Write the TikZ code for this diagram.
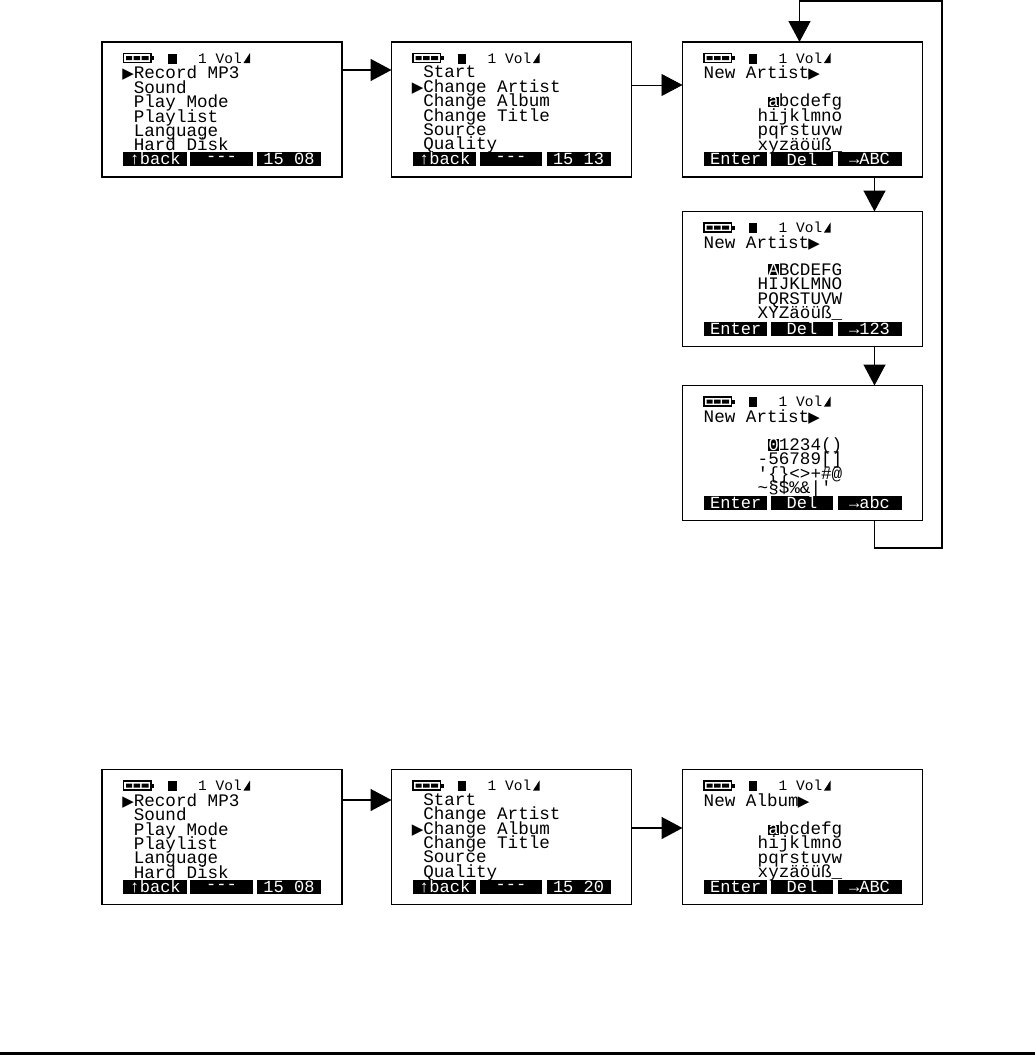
\documentclass[tikz,border=0pt]{standalone}
\usepackage{fontspec}
\setmonofont{Liberation Mono}
\newfontfamily\symfont{DejaVu Sans}
\usepackage{tikz}
\usetikzlibrary{arrows.meta,positioning}
\newcommand{\marker}{\makebox[10.6pt][r]{\symfont\fontsize{15}{14.3}\selectfont ▶}}
\newcommand{\cursor}[1]{{\setlength{\fboxsep}{0pt}\colorbox{black}{\textcolor{white}{#1}}}}
\lineskiplimit=-30pt
% status row of a screen
\newcommand{\lcdhead}[1]{
	\begin{scope}[shift={(#1.north west)}]
		\draw[line width=1.5pt] (21.5,-11.5) rectangle (49,-20.5);
		\fill (24,-14) rectangle (30,-18) (31.5,-14) rectangle (38,-18) (39.5,-14) rectangle (46.5,-18);
		\fill (49,-14) rectangle (52,-18);
		\fill (66,-11.5) rectangle (74.5,-21.5);
		\node[status,anchor=base west] (#1vol) at (96,-21) {1 Vol};
		\fill (148,-11) -- (148,-21) -- (141.5,-21) -- cycle;
	\end{scope}}
% black soft key bar
\newcommand{\lcdbars}[4]{
	\begin{scope}[shift={(#1.north west)}]
		\node[softkey,minimum width=63.5pt] (#1left) at (53.2,-117) {#2};
		\node[softkey,minimum width=62.5pt] (#1mid) at (119.5,-117) {#3};
		\node[softkey,minimum width=64pt] (#1right) at (187,-117) {#4};
	\end{scope}}
\newcommand{\lcdmenu}[5]{
	\node[screen,#2] (#1) {};
	\lcdhead{#1}
	\node[lines] (#1menu) at ([xshift=21pt,yshift=-24pt]#1.north west) {#3};
	\lcdbars{#1}{↑back}{---}{15 #4}}
\newcommand{\lcdkeys}[5]{
	\node[screen,#2] (#1) {};
	\lcdhead{#1}
	\node[lines] (#1title) at ([xshift=21pt,yshift=-24pt]#1.north west) {New #3\marker};
	\node[lines] (#1chars) at ([xshift=75pt,yshift=-52pt]#1.north west) {#4};
	\lcdbars{#1}{Enter}{Del}{→#5}}
\begin{document}
\begin{tikzpicture}[
		x=1pt,y=1pt,
		node distance=34.5pt and 49.5pt,
		screen/.style={draw,line width=1.6pt,minimum width=240pt,minimum height=135pt,inner sep=0pt,outer sep=0pt},
		status/.style={font=\ttfamily\fontsize{14.5}{14.3}\selectfont,inner sep=0pt},
		lines/.style={anchor=north west,align=left,inner sep=0pt,font=\ttfamily\fontsize{17.6}{14.35}\selectfont},
		softkey/.style={fill=black,text=white,minimum height=14pt,inner sep=0pt,font=\ttfamily\fontsize{17}{14}\selectfont},
		arr/.style={-{Triangle[length=21pt,width=22pt]},line width=1.5pt}
	]
	\useasboundingbox (0,0) rectangle (1035,-1055);
	\node[screen] (recmenu) at (222,-109.5) {};
	\lcdhead{recmenu}
	\node[lines] (recmenutext) at ([xshift=21pt,yshift=-24pt]recmenu.north west) {\marker Record MP3\\~Sound\\~Play Mode\\~Playlist\\~Language\\~Hard Disk};
	\lcdbars{recmenu}{↑back}{---}{15 08}
	\lcdmenu{artmenu}{right=of recmenu}{~Start\\\marker Change Artist\\~Change Album\\~Change Title\\~Source\\~Quality}{13}{}
	\lcdkeys{lower}{right=51pt of artmenu}{Artist}{~\cursor{a}bcdefg\\hijklmno\\pqrstuvw\\xyzäöüß\_}{ABC}
	\lcdkeys{upper}{below=of lower}{Artist}{~\cursor{A}BCDEFG\\HIJKLMNO\\PQRSTUVW\\XYZäöüß\_}{123}
	\lcdkeys{digits}{below=39pt of upper}{Artist}{~\cursor{0}1234()\\-56789[]\\'\{\}<>+\#@\\\textasciitilde§\$\%\&|'}{abc}
	\node[screen] (recmenub) at (222,-837) {};
	\lcdhead{recmenub}
	\node[lines] (recmenubtext) at ([xshift=21pt,yshift=-24pt]recmenub.north west) {\marker Record MP3\\~Sound\\~Play Mode\\~Playlist\\~Language\\~Hard Disk};
	\lcdbars{recmenub}{↑back}{---}{15 08}
	\lcdmenu{albmenu}{right=of recmenub}{~Start\\~Change Artist\\\marker Change Album\\~Change Title\\~Source\\~Quality}{20}{}
	\lcdkeys{album}{right=51pt of albmenu}{Album}{~\cursor{a}bcdefg\\hijklmno\\pqrstuvw\\xyzäöüß\_}{ABC}
	\coordinate (loopfoot) at (942,-548);
	\coordinate (looptop) at (942,-1);
	\draw[arr] ([yshift=39.5pt]recmenu.east) -- ([yshift=39.5pt]artmenu.west);
	\draw[-{Triangle[length=21pt,width=22pt]},line width=.8pt] ([yshift=24.5pt]artmenu.east) -- ([yshift=24.5pt]lower.west);
	\draw[arr] ([xshift=72pt]lower.south) -- ([xshift=72pt]upper.north);
	\draw[arr] ([xshift=72pt]upper.south) -- ([xshift=72pt]digits.north);
	\draw[arr] ([xshift=72pt]digits.south) |- (loopfoot) -- (looptop) -| ([xshift=-3pt]lower.north);
	\draw[arr] ([yshift=37pt]recmenub.east) -- ([yshift=37pt]albmenu.west);
	\draw[arr] ([yshift=9pt]albmenu.east) -- ([yshift=9pt]album.west);
	\coordinate (ruleleft) at (0,-1053.5);
	\coordinate (ruleright) at (1035,-1053.5);
	\draw[line width=3pt] (ruleleft) -- (ruleright);
\end{tikzpicture}
\end{document}
